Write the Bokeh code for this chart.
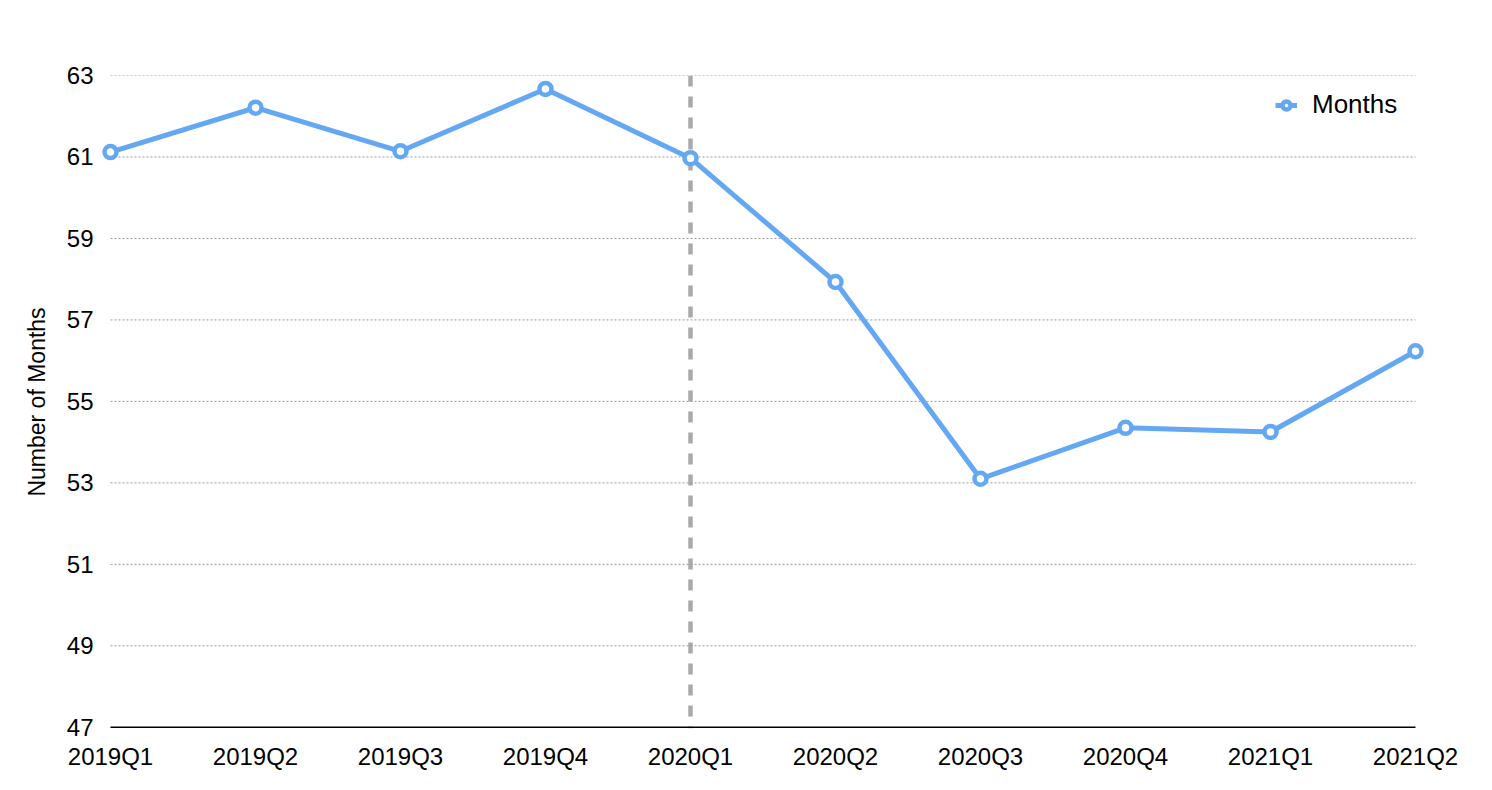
from bokeh.plotting import figure
from bokeh.models import FixedTicker, Span, Legend, LegendItem
from bokeh.embed import file_html
from bokeh.resources import INLINE

quarters = ["2019Q1", "2019Q2", "2019Q3", "2019Q4", "2020Q1",
            "2020Q2", "2020Q3", "2020Q4", "2021Q1", "2021Q2"]
months = [61.12, 62.21, 61.14, 62.67, 60.97, 57.93, 53.10, 54.35, 54.25, 56.23]
y_ticks = [47, 49, 51, 53, 55, 57, 59, 61, 63]
event_quarter = "2020Q1"

x = list(range(len(quarters)))
FONT = "Liberation Sans"
BLUE = "#64a8f4"
PAD = 0.069  # small range padding so end markers are not clipped

p = figure(width=1476, height=774, output_backend="svg", toolbar_location=None,
           x_range=(x[0] - PAD, x[-1] + PAD),
           y_range=(y_ticks[0] - 0.03, y_ticks[-1]),
           min_border_left=100, min_border_right=51, min_border_top=75,
           min_border_bottom=46)
p.outline_line_color = None

# axes
p.xaxis.ticker = FixedTicker(ticks=x)
p.xaxis.major_label_overrides = {i: q for i, q in enumerate(quarters)}
p.yaxis.ticker = FixedTicker(ticks=y_ticks)
for ax in (p.xaxis[0], p.yaxis[0]):
    ax.major_tick_line_color = None
    ax.minor_tick_line_color = None
    ax.major_label_text_font = FONT
    ax.major_label_text_font_size = "24px"
    ax.major_label_text_color = "#000000"
    ax.axis_line_color = None
p.xaxis.major_label_standoff = 8
p.yaxis.major_label_standoff = 1
p.yaxis.axis_label = "Number of Months"
p.yaxis.axis_label_text_font = FONT
p.yaxis.axis_label_text_font_size = "23px"
p.yaxis.axis_label_text_font_style = "normal"
p.yaxis.axis_label_text_color = "#000000"
p.yaxis.axis_label_standoff = 14

p.xgrid.grid_line_color = None
p.ygrid.grid_line_color = None

# grid lines and baseline spanning first..last quarter
grid_y = y_ticks[1:]
p.segment(x0=[x[0]] * len(grid_y), x1=[x[-1]] * len(grid_y), y0=grid_y, y1=grid_y,
          line_color="#999999", line_width=1, line_dash="2 2")
p.segment(x0=[x[0]], x1=[x[-1]], y0=[y_ticks[0]], y1=[y_ticks[0]],
          line_color="#000000", line_width=1.5)

# event line
span = Span(location=quarters.index(event_quarter), dimension="height",
            line_color="#aaaaaa", line_width=4.5, line_dash="11 10",
            level="underlay")
p.add_layout(span)

line = p.line(x, months, line_color=BLUE, line_width=5)
pts = p.scatter(x, months, marker="circle", size=12, fill_color="white",
                line_color=BLUE, line_width=4.5)

legend = Legend(items=[LegendItem(label="Months", renderers=[line, pts])],
                location=(1175, 608), border_line_color=None,
                background_fill_alpha=0, label_text_font=FONT,
                label_text_font_size="26px", label_text_color="#000000",
                glyph_width=22, label_standoff=15, margin=0, padding=6)
p.add_layout(legend)

open("out.html", "w").write(file_html(p, INLINE))
